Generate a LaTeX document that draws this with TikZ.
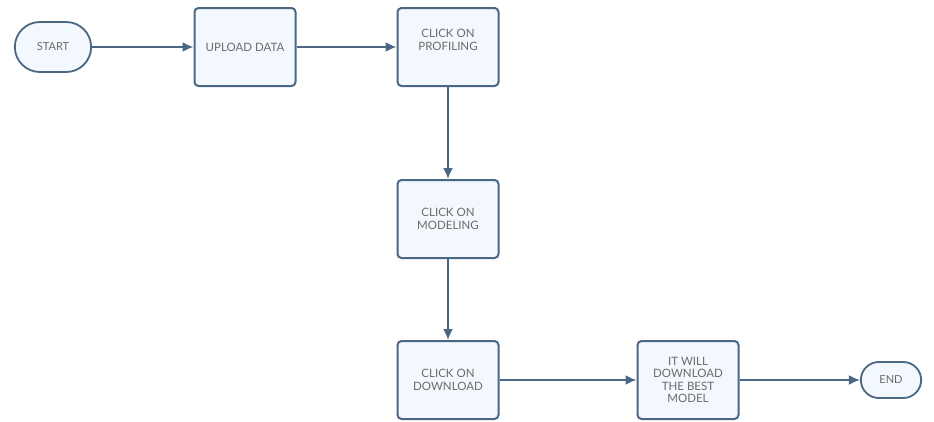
\documentclass[tikz,border=0pt]{standalone}
\usepackage{fontspec}
\setmainfont{Lato}
\usetikzlibrary{arrows.meta,shapes.misc}
\definecolor{edge}{HTML}{4A6784}
\definecolor{boxfill}{HTML}{F2F8FD}
\definecolor{txt}{HTML}{6B6B6B}
\begin{document}
\begin{tikzpicture}[x=1pt,y=-1pt,
  procbox/.style={draw=edge,line width=2pt,fill=boxfill,rounded corners=4pt,
    minimum width=101pt,minimum height=78pt,inner sep=2pt,align=center,
    text=txt,font=\fontsize{11.5}{12.5}\selectfont},
  termbox/.style={draw=edge,line width=1.8pt,fill=boxfill,rounded rectangle,
    minimum height=36pt,align=center,text=txt,font=\fontsize{11}{12.5}\selectfont},
  conn/.style={draw=edge,line width=1.8pt,-{Latex[length=11pt,width=10pt]}}]
\useasboundingbox (0,0) rectangle (934,421);
\node[termbox,minimum width=83pt,minimum height=50pt] (start) at (53,47) {START};
\node[procbox] (upload) at (245,47) {UPLOAD DATA};
\node[procbox] (prof) at (448,47) {CLICK ON\\PROFILING\\[2pt]};
\node[procbox] (model) at (448,219) {CLICK ON\\MODELING};
\node[procbox] (down) at (448,380) {CLICK ON\\DOWNLOAD};
\node[procbox] (best) at (688,380) {IT WILL\\DOWNLOAD\\THE BEST\\MODEL};
\node[termbox,minimum width=67pt] (end) at (891,380) {END};
\draw[conn] (start) -- (upload);
\draw[conn] (upload) -- (prof);
\draw[conn] (prof) -- (model);
\draw[conn] (model) -- (down);
\draw[conn] (down) -- (best);
\draw[conn] (best) -- (end);
\end{tikzpicture}
\end{document}
